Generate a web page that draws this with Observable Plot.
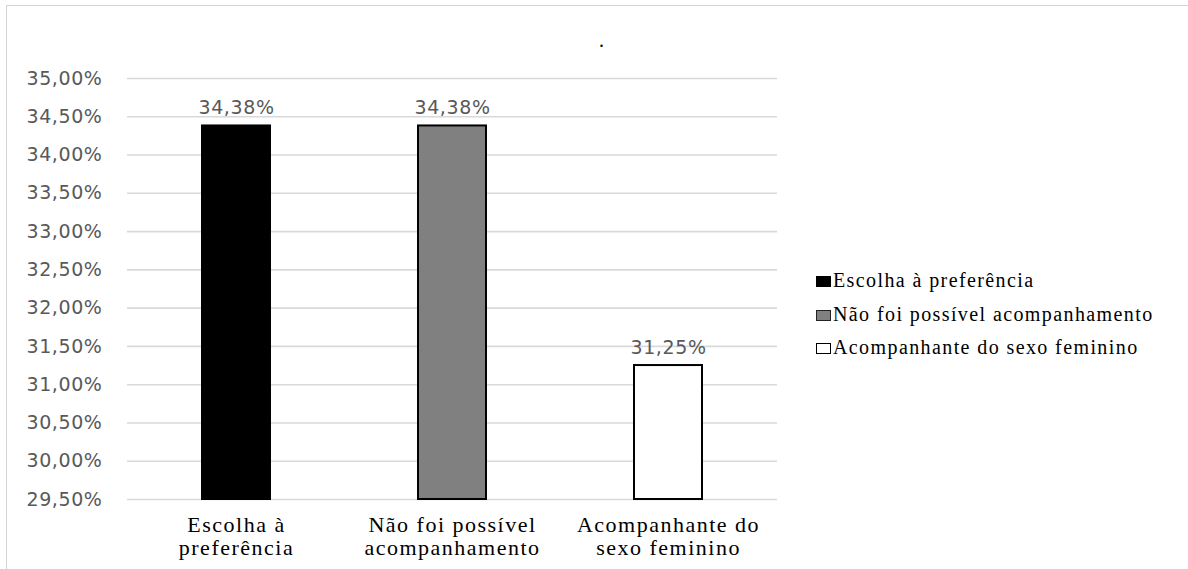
<!DOCTYPE html>
<html>
<head>
<meta charset="utf-8">
<script src="https://cdn.jsdelivr.net/npm/d3@7"></script>
<script src="https://cdn.jsdelivr.net/npm/@observablehq/plot@0.6"></script>
<style>
  html, body { margin: 0; padding: 0; background: #fff; }
  #wrap { position: relative; width: 1188px; height: 569px; overflow: hidden; }
  #frame { position: absolute; left: 6px; top: 5px; right: -10px; bottom: -10px;
           border-top: 1.5px solid #d4d4d4; border-left: 1.5px solid #d4d4d4; }
  #title { position: absolute; left: 599px; top: 29px; font-size: 20px;
           font-family: "Liberation Serif", "Times New Roman", serif; color: #000; }
  #legend { position: absolute; left: 816px; top: 264px; font-size: 20px;
            font-family: "Liberation Serif", "Times New Roman", serif;
            letter-spacing: 1.4px; color: #000; }
  #legend .row { height: 33.5px; line-height: 33.5px; white-space: nowrap; }
  #legend .sw { display: inline-block; width: 13px; height: 9px; border: 1px solid #000;
                margin-right: 2px; vertical-align: 0px; }
</style>
</head>
<body>
<div id="wrap">
  <div id="frame"></div>
  <div id="title">.</div>
  <div id="legend"></div>
</div>
<script>
// Categories, values (%) and bar fills
const categories = ["Escolha à preferência", "Não foi possível acompanhamento", "Acompanhante do sexo feminino"];
const axisLabels = ["Escolha à\npreferência", "Não foi possível\nacompanhamento", "Acompanhante do\nsexo feminino"];
const values = [34.38, 34.38, 31.25];
const fills = ["#000000", "#808080", "#ffffff"];
const yTicks = [29.5, 30, 30.5, 31, 31.5, 32, 32.5, 33, 33.5, 34, 34.5, 35];
const yMin = 29.5, yMax = 35;

const serif = "'Liberation Serif', 'Times New Roman', serif";
const sans = "'DejaVu Sans', Verdana, sans-serif";

const data = categories.map((c, i) => ({category: c, value: values[i], fill: fills[i]}));
const pct = v => v.toFixed(2).replace(".", ",") + "%";

const chart = Plot.plot({
  width: 1188,
  height: 569,
  marginLeft: 127,
  marginRight: 411,
  marginTop: 78,
  marginBottom: 70,
  style: {background: "transparent", overflow: "visible"},
  x: {domain: categories, paddingInner: 0.677, paddingOuter: 0.3385, label: null},
  y: {domain: [yMin, yMax], label: null},
  marks: [
    Plot.gridY(yTicks, {stroke: "#d9d9d9", strokeOpacity: 1, strokeWidth: 1.6}),
    Plot.axisY(yTicks, {tickSize: 0, tickPadding: 25, tickFormat: pct, fontSize: 19,
      fontFamily: sans, fill: "#595959", label: null, className: "ytick"}),
    Plot.axisX({tickSize: 0, tickPadding: 16, fontSize: 22, lineHeight: 1.06,
      fontFamily: serif, fill: "#000", label: null, className: "xtick",
      tickFormat: d => axisLabels[categories.indexOf(d)]}),
    Plot.barY(data, {x: "category", y1: () => yMin, y2: "value", fill: "fill",
      stroke: "#000", strokeWidth: 2, insetLeft: 1, insetRight: 1}),
    Plot.text(data, {x: "category", y: "value", text: d => pct(d.value), dy: -12,
      lineAnchor: "bottom", fontSize: 19, fill: "#595959", fontFamily: sans,
      className: "vlabel"})
  ]
});

// Letter spacing of the text groups
d3.select(chart).selectAll("g[aria-label='y-axis tick label'], g[aria-label='text']")
  .attr("letter-spacing", 0.6);
d3.select(chart).selectAll("g[aria-label='x-axis tick label']")
  .attr("letter-spacing", 1.5);

chart.style.position = "absolute";
chart.style.left = "0px";
chart.style.top = "0px";
document.getElementById("wrap").appendChild(chart);

// Legend rows built from the same categories and fills
const legend = document.getElementById("legend");
categories.forEach((c, i) => {
  const row = document.createElement("div");
  row.className = "row";
  const sw = document.createElement("span");
  sw.className = "sw";
  sw.style.background = fills[i];
  if (i === 1) sw.style.borderColor = "#222";
  row.appendChild(sw);
  row.appendChild(document.createTextNode(c));
  legend.appendChild(row);
});
</script>
</body>
</html>
